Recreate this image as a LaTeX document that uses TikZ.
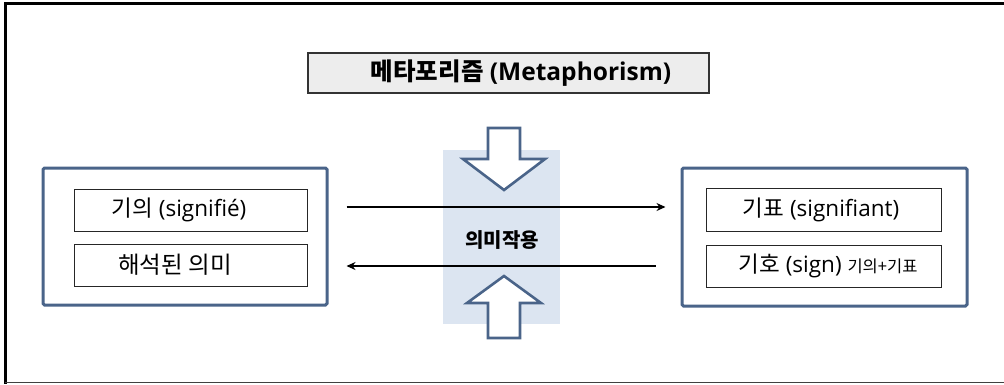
\documentclass[tikz,border=0pt]{standalone}
\usepackage{fontspec}
\setmainfont{Open Sans}
\newfontfamily\kr{Noto Sans CJK KR}
\usetikzlibrary{arrows.meta}
\definecolor{frameblue}{HTML}{4A6489}
\definecolor{bandblue}{HTML}{DCE5F1}
\definecolor{titlegray}{HTML}{EDEDED}
\tikzset{
  outerbox/.style={draw=frameblue, line width=3pt, rounded corners=1.5pt, fill=white},
  innerbox/.style={draw=black!85, line width=1pt, fill=white},
  blockarrow/.style={draw=frameblue, line width=2.6pt, fill=white, line join=miter},
  flowline/.style={line width=1.4pt, -{Stealth[length=9pt,width=8pt]}},
  lbl/.style={font=\fontsize{22.5}{24}\selectfont, inner sep=0pt, anchor=center}
}
\begin{document}
\begin{tikzpicture}[x=1pt,y=-1pt]
\useasboundingbox (0,0) rectangle (1004,384);
% outer frame fragments
\draw[line width=3pt] (4,3.5) -- (1004,3.5);
\draw[line width=3pt] (5,2) -- (5,384);
\draw[line width=1.2pt, black!75] (5,382.6) -- (1004,382.6);
% title
\node[draw=black!80, line width=1.3pt, fill=titlegray, minimum width=401pt, minimum height=40pt, inner sep=0pt] (title) at (508.5,73) {};
\node[inner sep=0pt, font=\fontsize{24.5}{26}\selectfont\bfseries] (titletext) at (521,73) {{\kr 메타포리즘} (Metaphorism)};
% center band
\fill[bandblue] (443,150) rectangle (560,324);
% left group
\node[outerbox, minimum width=284pt, minimum height=137pt, inner sep=0pt] (L) at (185,236.5) {};
\node[innerbox, minimum width=233pt, minimum height=42pt, inner sep=0pt] (L1) at (190.5,210) {};
\node[innerbox, minimum width=233pt, minimum height=42pt, inner sep=0pt] (L2) at (190.5,265) {};
\node[lbl] (L1t) at (179,210) {{\kr 기의} (signifié)};
\node[lbl, font=\kr\fontsize{23.5}{25}\selectfont] (L2t) at (175,265) {해석된 의미};
% right group
\node[outerbox, minimum width=285pt, minimum height=138pt, inner sep=0pt] (R) at (824.5,237) {};
\node[innerbox, minimum width=235pt, minimum height=43pt, inner sep=0pt] (R1) at (823.5,209.5) {};
\node[innerbox, minimum width=235pt, minimum height=42pt, inner sep=0pt] (R2) at (823.5,266) {};
\node[lbl] (R1t) at (821,209.5) {{\kr 기표} (signifiant)};
\node[lbl] (R2t) at (828,266) {{\kr 기호} (sign) {\kr\fontsize{16.5}{17}\selectfont 기의+기표}};
% center label
\node[inner sep=0pt, font=\kr\fontsize{20}{21}\selectfont\bfseries] (mid) at (502,240) {의미작용};
% block arrows
\draw[blockarrow] (488,128) -- (520,128) -- (520,159) -- (545,159) -- (504,190) -- (463,159) -- (488,159) -- cycle;
\draw[blockarrow] (504,276) -- (541,303) -- (520,303) -- (520,338) -- (488,338) -- (488,303) -- (467,303) -- cycle;
% connectors
\coordinate (a1s) at ([xshift=18pt]L.east |- 0,207);
\coordinate (a1e) at ([xshift=-15pt]R.west |- 0,207);
\coordinate (a2s) at ([xshift=-25pt]R.west |- 0,266);
\coordinate (a2e) at ([xshift=18pt]L.east |- 0,266);
\draw[flowline] (a1s) -- (a1e);
\draw[flowline] (a2s) -- (a2e);
\end{tikzpicture}
\end{document}
